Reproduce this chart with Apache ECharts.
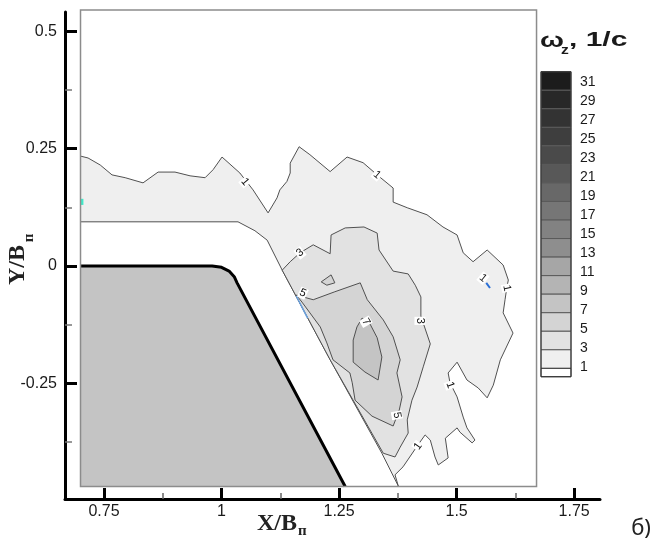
<!DOCTYPE html>
<html><head><meta charset="utf-8">
<script src="https://cdn.jsdelivr.net/npm/echarts@6.0.0/dist/echarts.min.js"></script>
<style>html,body{margin:0;padding:0;background:#fff}#c{width:656px;height:542px}</style>
</head><body><div id="c"></div>
<script>
// ---- axis ticks ----
const xMajorTicks = [0.75, 1, 1.25, 1.5, 1.75];
const xMinorTicks = [0.875, 1.125, 1.375, 1.625];
const yMajorTicks = [-0.25, 0, 0.25, 0.5];
const yMinorTicks = [-0.375, -0.125, 0.125, 0.375];

// ---- contour levels (legend) ----
const levels = [31, 29, 27, 25, 23, 21, 19, 17, 15, 13, 11, 9, 7, 5, 3, 1];
const levelColors = ['#1c1c1c','#282828','#333333','#3e3e3e','#4a4a4a','#585858','#686868','#767676',
                     '#828282','#8e8e8e','#a6a6a6','#b4b4b4','#c4c4c4','#d4d4d4','#e2e2e2','#efefef'];

// ---- contour lines (X/Bп, Y/Bп) ----
const contour1 = [[0.700,0.234],[0.716,0.230],[0.742,0.215],[0.767,0.194],[0.795,0.188],[0.833,0.177],
 [0.865,0.200],[0.901,0.200],[0.933,0.192],[0.965,0.188],[0.982,0.205],[1.001,0.232],[1.039,0.198],
 [1.067,0.162],[1.099,0.113],[1.118,0.145],[1.124,0.162],[1.139,0.180],[1.146,0.198],[1.146,0.219],
 [1.165,0.254],[1.188,0.237],[1.231,0.201],[1.267,0.232],[1.301,0.220],[1.331,0.194],[1.365,0.166],
 [1.365,0.136],[1.395,0.124],[1.437,0.109],[1.471,0.083],[1.501,0.066],[1.514,0.028],[1.535,0.009],
 [1.565,0.034],[1.599,0.002],[1.610,-0.030],[1.607,-0.045],[1.603,-0.072],[1.599,-0.100],[1.620,-0.143],
 [1.593,-0.200],[1.578,-0.254],[1.565,-0.281],[1.546,-0.260],[1.522,-0.243],[1.501,-0.205],[1.482,-0.228],
 [1.486,-0.249],[1.501,-0.279],[1.514,-0.322],[1.522,-0.345],[1.539,-0.371],[1.533,-0.377],[1.507,-0.354],
 [1.501,-0.345],[1.476,-0.367],[1.482,-0.409],[1.461,-0.424],[1.454,-0.407],[1.444,-0.371],[1.433,-0.360],
 [1.418,-0.381],[1.386,-0.428],[1.369,-0.445],[1.376,-0.469]];
const wallEdge = [[1.376,-0.469],[1.341,-0.399],[1.231,-0.200],[1.129,-0.009],[1.097,0.055],
 [1.071,0.075],[1.035,0.094],[0.700,0.094]];
const contour3 = [[1.129,-0.009],[1.146,0.009],[1.167,0.028],[1.195,0.045],[1.231,0.026],[1.233,0.066],
 [1.263,0.081],[1.303,0.083],[1.331,0.070],[1.335,0.034],[1.365,-0.011],[1.397,-0.017],[1.412,-0.041],
 [1.424,-0.066],[1.424,-0.107],[1.444,-0.166],[1.429,-0.215],[1.416,-0.258],[1.405,-0.286],[1.395,-0.328],
 [1.397,-0.356],[1.380,-0.386],[1.369,-0.407],[1.344,-0.399]];
const contour5 = [[1.159,-0.062],[1.195,-0.072],[1.241,-0.055],[1.295,-0.036],[1.310,-0.072],[1.344,-0.115],
 [1.365,-0.151],[1.380,-0.200],[1.373,-0.228],[1.384,-0.279],[1.378,-0.307],[1.365,-0.341],[1.320,-0.320],
 [1.284,-0.286],[1.278,-0.249],[1.273,-0.228],[1.237,-0.200],[1.224,-0.164],[1.210,-0.130],[1.188,-0.100],
 [1.171,-0.077]];
const contour5Island = [[1.212,-0.034],[1.233,-0.019],[1.241,-0.036],[1.224,-0.041]];
const contour7 = [[1.299,-0.111],[1.316,-0.124],[1.331,-0.153],[1.341,-0.194],[1.333,-0.243],[1.305,-0.226],
 [1.280,-0.205],[1.280,-0.158],[1.288,-0.130]];
const islandMark = [[1.563,-0.036],[1.571,-0.047]];
const edgeMarkLeft = [[0.703,0.143],[0.703,0.130]];
const edgeMarkWall = [[1.159,-0.064],[1.183,-0.111]];
const bodyEdge = [[0.700,0],[0.980,0],[1.000,-0.003],[1.016,-0.011],[1.027,-0.023],[1.033,-0.036],[1.263,-0.470]];
const frameBox = [[0.70,-0.47],[1.67,0.545]];
const contourLabels = [[1.050,0.179,'1'],[1.331,0.194,'1'],[1.607,-0.047,'1'],[1.556,-0.026,'1'],
 [1.167,0.028,'3'],[1.422,-0.117,'3'],[1.173,-0.058,'5'],[1.307,-0.119,'7'],[1.373,-0.318,'5'],
 [1.486,-0.254,'1'],[1.418,-0.384,'1']];
const contourLabelAngles = [-50,-40,-78,-40,38,-90,-25,-60,-80,-70,55];

// ---- build ----
const colorOf = lv => levelColors[levels.indexOf(lv)];
const regions = [
  {pts: contour1.concat(wallEdge.slice(1)), level: 1},
  {pts: contour3.concat([wallEdge[2]]), level: 3},
  {pts: contour5, level: 5},
  {pts: contour5Island, level: 5},
  {pts: contour7, level: 7}
];
const FONT = '"Liberation Sans", Arial, sans-serif';
const SERIF = '"Liberation Serif", "Times New Roman", serif';

const chart = echarts.init(document.getElementById('c'), null, {renderer: 'canvas'});

const graphics = [];
// legend boxes
const lgX = 541, lgY = 71.7, lgW = 30, lgH = 18.54;
levels.forEach((lv, i) => {
  graphics.push({type:'rect', shape:{x:lgX, y:lgY + i*lgH, width:lgW, height:lgH},
    style:{fill: levelColors[i], stroke:'#5a5a5a', lineWidth:1}});
  graphics.push({type:'text', x:580, y:82 + i*19.03,
    style:{text:String(lv), font:'14px ' + FONT, fill:'#1a1a1a', align:'left', verticalAlign:'middle'}});
});
graphics.push({type:'rect', shape:{x:lgX, y:lgY + 16*lgH, width:lgW, height:8.4},
  style:{fill:'#ffffff', stroke:'#333', lineWidth:1}});
graphics.push({type:'rect', shape:{x:lgX, y:lgY, width:lgW, height:16*lgH + 8.4},
  style:{fill:'none', stroke:'#333', lineWidth:1}});
// legend title: ω_z, 1/c
graphics.push({type:'text', x:540, y:41, scaleX:1.35,
  style:{text:'ω', font:'bold 21px ' + FONT, fill:'#1a1a1a', align:'left', verticalAlign:'middle'}});
graphics.push({type:'text', x:561, y:50, scaleX:1.2,
  style:{text:'z', font:'bold 13px ' + FONT, fill:'#1a1a1a', align:'left', verticalAlign:'middle'}});
graphics.push({type:'text', x:569, y:40, scaleX:1.5,
  style:{text:', 1/c', font:'bold 20px ' + FONT, fill:'#1a1a1a', align:'left', verticalAlign:'middle'}});
// axis titles
graphics.push({type:'text', x:257, y:524, style:{text:'X/B', font:'bold 24px ' + SERIF, fill:'#222', align:'left', verticalAlign:'middle'}});
graphics.push({type:'text', x:298, y:531, style:{text:'п', font:'bold 15px ' + SERIF, fill:'#222', align:'left', verticalAlign:'middle'}});
graphics.push({type:'text', x:18, y:265, rotation:Math.PI/2, style:{text:'Y/B', font:'bold 24px ' + SERIF, fill:'#222', align:'center', verticalAlign:'middle'}});
graphics.push({type:'text', x:29, y:238, rotation:Math.PI/2, style:{text:'п', font:'bold 15px ' + SERIF, fill:'#222', align:'center', verticalAlign:'middle'}});
graphics.push({type:'text', x:641, y:529, style:{text:'б)', font:'22px "Noto Sans", "Open Sans", sans-serif', fill:'#222', align:'center', verticalAlign:'middle'}});

const xRange = {min: 0.667, max: 1.805};
const yRange = {min: -0.4965, max: 0.541};
const axisLab = {fontFamily: FONT, fontSize: 16, color: '#1a1a1a'};

const lineMark = (pts, color, w) => ({type:'custom', silent:true, clip:false,
  data: [[pts[0][0], pts[0][1]]],
  renderItem: (params, api) => ({type:'polyline', shape:{points: pts.map(p => api.coord(p))},
     style:{fill:'none', stroke:color, lineWidth:w}})});

const option = {
  animation: false,
  grid: {left: 65, right: 56, top: 12, bottom: 43, containLabel: false},
  xAxis: [
    {type:'value', position:'bottom', ...xRange,
     axisLine:{show:true, onZero:false, lineStyle:{color:'#000', width:3}},
     axisTick:{show:true, inside:true, length:11, lineStyle:{color:'#000', width:3}, customValues:xMajorTicks},
     axisLabel:{...axisLab, margin:5, customValues:xMajorTicks},
     splitLine:{show:false}},
    {type:'value', position:'bottom', ...xRange,
     axisLine:{show:false, onZero:false},
     axisTick:{show:true, inside:true, length:6, lineStyle:{color:'#666', width:1.5}, customValues:xMinorTicks},
     axisLabel:{show:false}, splitLine:{show:false}}
  ],
  yAxis: [
    {type:'value', position:'left', ...yRange,
     axisLine:{show:true, onZero:false, lineStyle:{color:'#000', width:3}},
     axisTick:{show:true, inside:true, length:12, lineStyle:{color:'#000', width:3}, customValues:yMajorTicks},
     axisLabel:{...axisLab, margin:8, customValues:yMajorTicks},
     splitLine:{show:false}},
    {type:'value', position:'left', ...yRange,
     axisLine:{show:false, onZero:false},
     axisTick:{show:true, inside:true, length:7, lineStyle:{color:'#777', width:1.5}, customValues:yMinorTicks},
     axisLabel:{show:false}, splitLine:{show:false}}
  ],
  graphic: {elements: graphics},
  series: [
    {type:'custom', silent:true, clip:false,
     data: regions.map(r => [r.pts[0][0], r.pts[0][1]]),
     renderItem: (params, api) => {
       const r = regions[params.dataIndex];
       return {type:'polygon', shape:{points: r.pts.map(p => api.coord(p))},
               style:{fill: colorOf(r.level), stroke:'#505050', lineWidth:1}};
     }},
    {type:'custom', silent:true, clip:false,
     data: [[bodyEdge[0][0], bodyEdge[0][1]]],
     renderItem: (params, api) => {
       const edge = bodyEdge.map(p => api.coord(p));
       const last = bodyEdge[bodyEdge.length - 1];
       const fillPts = edge.concat([api.coord([last[0], frameBox[0][1]]), api.coord([bodyEdge[0][0], frameBox[0][1]])]);
       return {type:'group', children:[
         {type:'polygon', shape:{points: fillPts}, style:{fill:'#c4c4c4', stroke:'none'}},
         {type:'polyline', shape:{points: edge}, style:{fill:'none', stroke:'#000', lineWidth:3, lineJoin:'round'}}
       ]};
     }},
    lineMark(islandMark, '#2a6fd6', 2),
    lineMark(edgeMarkLeft, '#40e8c8', 3),
    lineMark(edgeMarkWall, '#6aa0dc', 1.5),
    {type:'custom', silent:true, clip:false,
     data: [[frameBox[0][0], frameBox[0][1]]],
     renderItem: (params, api) => {
       const a = api.coord(frameBox[0]), b = api.coord(frameBox[1]);
       return {type:'rect', shape:{x:a[0], y:b[1], width:b[0]-a[0], height:a[1]-b[1]},
               style:{fill:'none', stroke:'#8c8c8c', lineWidth:1.5}};
     }},
    {type:'custom', silent:true, clip:false,
     data: contourLabels.map(l => [l[0], l[1]]),
     renderItem: (params, api) => {
       const l = contourLabels[params.dataIndex];
       const c = api.coord([l[0], l[1]]);
       return {type:'text', x:c[0], y:c[1], rotation: contourLabelAngles[params.dataIndex] * Math.PI / 180,
               style:{text:l[2], fontSize:11, fontFamily:FONT, fill:'#111', align:'center', verticalAlign:'middle',
                      backgroundColor:'#ffffff', padding:[0,1]}};
     }}
  ]
};
chart.setOption(option);
</script></body></html>
